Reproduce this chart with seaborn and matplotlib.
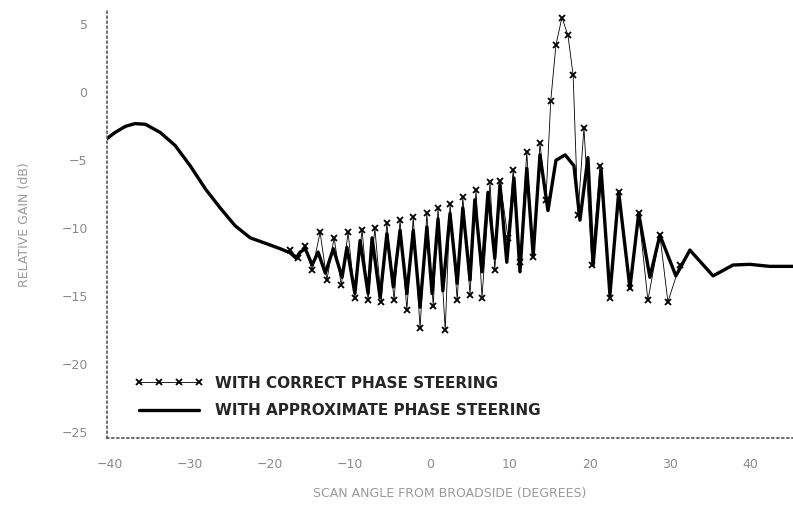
import numpy as np
import pandas as pd
import matplotlib
matplotlib.use('Agg')
import matplotlib.pyplot as plt
import seaborn as sns

# ---- data ----
# approximate phase steering (solid line)
approx_angle = [-40.4, -39.4, -38.1, -36.9, -35.6, -33.75, -31.9, -30.0, -28.1, -26.25,
                -24.4, -22.5, -20.6, -18.75, -17.5, -16.75, -16.25, -15.6, -14.75, -14.0,
                -13.1, -12.1, -11.0, -10.4, -9.4, -8.75, -7.75, -7.25, -6.25, -5.4,
                -4.6, -3.75, -2.9, -2.1, -1.25, -0.4, 0.25, 1.0, 1.6, 2.5,
                3.4, 4.1, 5.0, 5.6, 6.5, 7.25, 8.1, 8.75, 9.6, 10.5,
                11.25, 12.1, 12.9, 13.75, 14.75, 15.75, 16.9, 18.0, 18.75, 19.75,
                20.4, 21.4, 22.5, 23.6, 25.0, 26.1, 27.5, 28.75, 30.75, 32.5,
                35.4, 37.9, 40.0, 42.5, 45.4]
approx_gain = [-3.4, -2.95, -2.5, -2.3, -2.35, -2.95, -3.9, -5.4, -7.1, -8.5,
               -9.8, -10.7, -11.1, -11.5, -11.8, -12.2, -11.75, -11.5, -12.7, -11.75,
               -13.3, -11.5, -13.6, -11.4, -14.8, -10.9, -14.8, -10.7, -15.1, -10.4,
               -14.3, -10.15, -14.8, -10.15, -15.8, -9.9, -14.8, -9.3, -14.6, -8.9,
               -14.05, -8.5, -13.8, -7.9, -13.2, -7.35, -12.2, -6.8, -12.5, -6.3,
               -13.2, -5.6, -12.0, -4.6, -8.7, -5.0, -4.6, -5.4, -9.4, -4.8,
               -12.7, -5.7, -14.9, -7.35, -14.4, -8.9, -13.6, -10.5, -13.5, -11.6,
               -13.5, -12.7, -12.65, -12.8, -12.8]

# correct phase steering (x markers)
correct_angle = [-17.5, -16.5, -15.6, -14.75, -13.75, -12.9, -12.0, -11.1, -10.25, -9.4,
                 -8.5, -7.75, -6.9, -6.1, -5.4, -4.5, -3.75, -2.9, -2.1, -1.25,
                 -0.4, 0.4, 1.0, 1.9, 2.5, 3.4, 4.1, 5.0, 5.75, 6.5,
                 7.5, 8.1, 8.75, 9.75, 10.4, 11.25, 12.1, 12.9, 13.75, 14.5,
                 15.1, 15.75, 16.5, 17.25, 17.9, 18.5, 19.25, 20.25, 21.25, 22.5,
                 23.6, 25.0, 26.1, 27.25, 28.75, 29.75, 31.25]
correct_gain = [-11.6, -12.2, -11.3, -13.1, -10.3, -13.8, -10.7, -14.2, -10.3, -15.1,
                -10.1, -15.3, -10.0, -15.4, -9.6, -15.3, -9.4, -16.0, -9.2, -17.35,
                -8.9, -15.7, -8.5, -17.5, -8.2, -15.3, -7.7, -14.9, -7.2, -15.1,
                -6.6, -13.1, -6.5, -10.7, -5.7, -12.5, -4.4, -12.1, -3.75, -7.9,
                -0.6, 3.5, 5.5, 4.2, 1.25, -9.0, -2.6, -12.7, -5.4, -15.1,
                -7.35, -14.4, -8.9, -15.3, -10.5, -15.4, -12.7]

x_ticks = [-40, -30, -20, -10, 0, 10, 20, 30, 40]
y_ticks = [-25, -20, -15, -10, -5, 0, 5]

df_approx = pd.DataFrame({'angle': approx_angle, 'gain': approx_gain})
df_correct = pd.DataFrame({'angle': correct_angle, 'gain': correct_gain})

sns.set_theme(style='white')
plt.rcParams['font.family'] = ['DejaVu Sans']

fig = plt.figure(figsize=(7.93, 5.18), dpi=100)
ax = fig.add_axes([0.135, 0.154, 0.865, 0.826])

sns.lineplot(data=df_correct, x='angle', y='gain', ax=ax, sort=False, estimator=None,
             color='black', linewidth=0.6, marker='x', markersize=4.5,
             markeredgewidth=1.3, markeredgecolor='black',
             label='WITH CORRECT PHASE STEERING')
sns.lineplot(data=df_approx, x='angle', y='gain', ax=ax, sort=False, estimator=None,
             color='black', linewidth=2.4, label='WITH APPROXIMATE PHASE STEERING')

ax.set_xlim(-40.4, 45.4)
ax.set_ylim(-25.44, 6.03)
ax.set_xticks(x_ticks)
ax.set_yticks(y_ticks)
ax.tick_params(length=0, labelsize=9, labelcolor='#8a8a8a', pad=14)

for side in ['top', 'right']:
    ax.spines[side].set_visible(False)
for side in ['left', 'bottom']:
    ax.spines[side].set_linestyle((0, (1, 2)))
    ax.spines[side].set_linewidth(1.2)
    ax.spines[side].set_color('#555555')

ax.set_xlabel('SCAN ANGLE FROM BROADSIDE (DEGREES)', color='#9a9a9a', fontsize=9, labelpad=12)
ax.set_ylabel('RELATIVE GAIN (dB)', color='#9a9a9a', fontsize=9, labelpad=22)

ax.legend(loc='lower left', bbox_to_anchor=(0.02, 0.015), frameon=False, numpoints=4,
          handlelength=4.5, prop={'weight': 'bold', 'size': 11}, labelspacing=0.8)

fig.savefig('out.png', dpi=100)
